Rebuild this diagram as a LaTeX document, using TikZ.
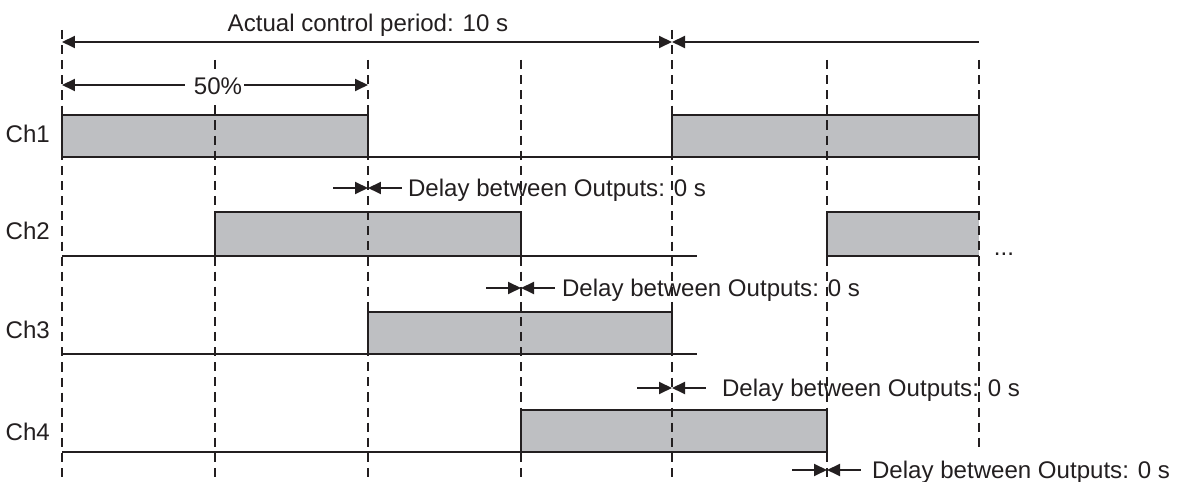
\documentclass[tikz,border=0pt]{standalone}
\usepackage{fontspec}
\setmainfont{Liberation Sans}
\usepackage{xcolor}
\usepackage{tikz}
\usetikzlibrary{arrows.meta}
\definecolor{barfill}{RGB}{190,191,194}
\definecolor{inkdark}{RGB}{35,31,32}

\begin{document}
\begin{tikzpicture}[x=0.02cm,y=-0.02cm,
    >={Triangle[length=0.26cm,width=0.24cm]},
    every node/.style={font=\fontsize{13.7pt}{16pt}\selectfont,text=inkdark,inner sep=1pt},
    grid/.style={draw=inkdark,line width=0.75pt,dash pattern=on 5.2pt off 3.4pt},
    bar/.style={draw=inkdark,line width=1.1pt,fill=barfill},
    level/.style={draw=inkdark,line width=0.85pt},
    dim/.style={draw=inkdark,line width=1.1pt}]
  \useasboundingbox (0,0) rectangle (1178,482);
  % time marks and levels
  \foreach \i/\x in {0/62,1/215,2/368,3/521,4/672,5/827,6/979}
    \coordinate (t\i) at (\x,0);
  \coordinate (top) at (0,42);
  \coordinate (half) at (0,85);
  \coordinate (hi1) at (0,115); \coordinate (lo1) at (0,157);
  \coordinate (hi2) at (0,212); \coordinate (lo2) at (0,256);
  \coordinate (hi3) at (0,312); \coordinate (lo3) at (0,354);
  \coordinate (hi4) at (0,410); \coordinate (lo4) at (0,452);
  % bars
  \fill[barfill] (t5 |- hi2) rectangle (t6 |- lo2);
  \draw[bar] (t0 |- hi1) rectangle (t2 |- lo1);
  \draw[bar] (t4 |- hi1) rectangle (t6 |- lo1);
  \draw[bar] (t1 |- hi2) rectangle (t3 |- lo2);
  \draw[bar] (t2 |- hi3) rectangle (t4 |- lo3);
  \draw[bar] (t3 |- hi4) rectangle (t5 |- lo4);
  \draw[bar,fill=none] (t6 |- hi2) -- (t5 |- hi2) -- (t5 |- lo2) -- (t6 |- lo2);
  % output levels
  \coordinate (end2) at (697,256);
  \coordinate (end3) at (697,354);
  \draw[level] (t0 |- lo1) -- (t4 |- lo1);
  \draw[level] (t0 |- lo2) -- (end2);
  \draw[level] (t0 |- lo3) -- (end3);
  \draw[level] (t0 |- lo4) -- (t5 |- lo4);
  % dashed marks
  \draw[grid] (62,30) -- (62,482);
  \draw[grid] (672,30) -- (672,482);
  \foreach \x in {215,368,521,827}
    \draw[grid] (\x,60) -- (\x,482);
  \draw[grid] (979,60) -- (979,452);
  % channel names
  \node[anchor=base east] (ch1) at (52,143) {Ch1};
  \node[anchor=base east] (ch2) at (52,240) {Ch2};
  \node[anchor=base east] (ch3) at (52,339) {Ch3};
  \node[anchor=base east] (ch4) at (52,441) {Ch4};
  % period
  \node[anchor=base] (period) at (368,32) {Actual control period: 10 s};
  \draw[dim,<->] (t0 |- top) -- (t4 |- top);
  \draw[dim,<-] (t4 |- top) -- (t6 |- top);
  % duty
  \node[anchor=base,fill=white,inner ysep=3pt] (duty) at (218,95) {50\%};
  \coordinate (halfgap) at (185,85);
  \draw[dim,<-] (t0 |- half) -- (halfgap);
  \draw[dim,->] (duty.east |- half) -- (t2 |- half);
  \node[anchor=base] (more) at (1004,256) {...};
  % delays
  \foreach \n/\x/\y/\tx in {1/368/188/406,2/521/288/560,3/672/388/720,4/827/470/870}{
    \coordinate (d\n) at (\x,\y);
    \node[anchor=base west] (delay\n) at (\tx,\y+8.5) {Delay between Outputs: 0 s};
    \draw[dim,->] ([xshift=-0.7cm]d\n) -- (d\n);
    \draw[dim,->] ([xshift=0.68cm]d\n) -- (d\n);
  }
\end{tikzpicture}
\end{document}
